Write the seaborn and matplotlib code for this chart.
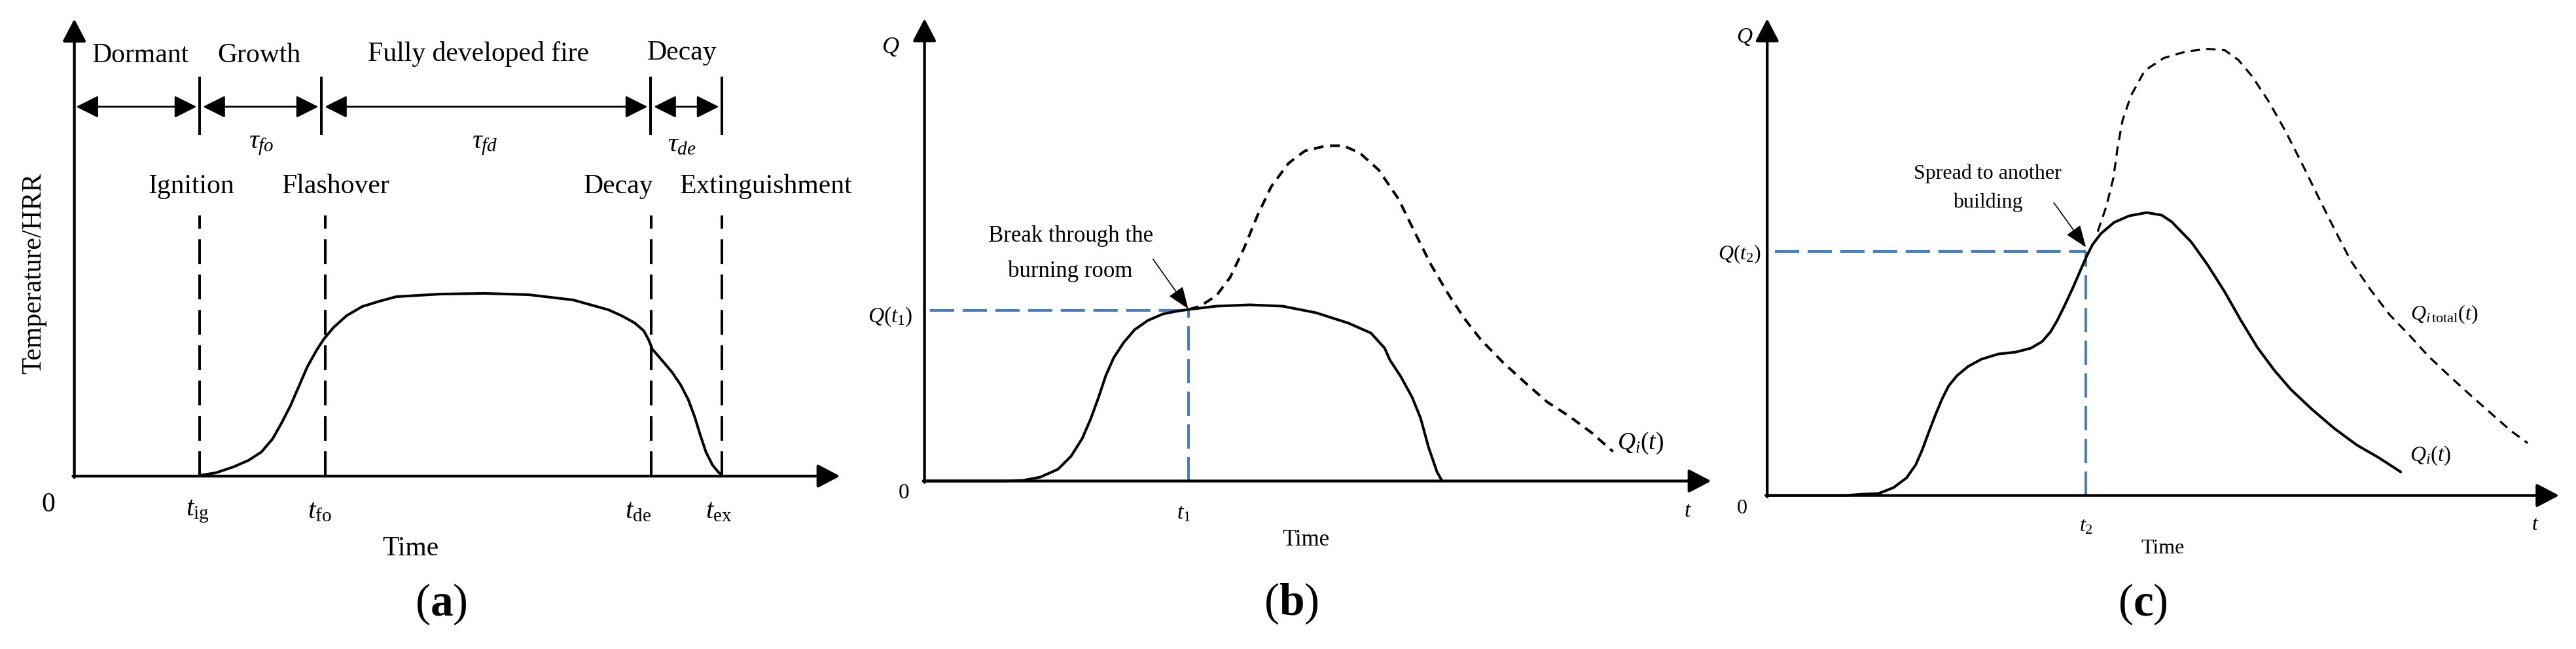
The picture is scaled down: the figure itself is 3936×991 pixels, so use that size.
import numpy as np
import pandas as pd
import matplotlib
matplotlib.use("Agg")
import matplotlib.pyplot as plt
import seaborn as sns

# ---------------- data (schematic values) ----------------
# Panel (a): fire development curve
a_time = [191, 216, 243, 266, 286, 303, 316, 330, 343, 356, 370, 381, 396, 416,
          440, 466, 492, 560, 627, 694, 762, 816, 836, 856, 870, 878, 883, 896,
          913, 926, 938, 948, 956, 965, 975, 985, 989]
a_value = [1, 5, 14, 24, 37, 57, 80, 107, 137, 167, 192, 209, 227, 245,
           259, 267, 274, 278, 279, 277, 269, 254, 245, 234, 222, 207, 194, 179,
           159, 140, 117, 90, 64, 37, 17, 5, 2]
a_phase_bounds = [191, 377, 880, 989]
a_event_times = [191, 383, 881, 989]
a_phase_names = ["Dormant", "Growth", "Fully developed fire", "Decay"]
a_tau_labels = [r"$\tau_{fo}$", r"$\tau_{fd}$", r"$\tau_{de}$"]
a_event_names = ["Ignition", "Flashover", "Decay", "Extinguishment"]
a_tick_labels = [r"$t_{\rm ig}$", r"$t_{\rm fo}$", r"$t_{\rm de}$", r"$t_{\rm ex}$"]

# Panel (b): burning room and total
b_time = [0, 120, 151, 177, 204, 224, 241, 254, 266, 277, 289, 304, 321, 341,
          364, 384, 404, 446, 497, 547, 598, 648, 682, 703, 711, 728, 745, 758,
          770, 783, 791]
b_room = [0, 0, 1, 6, 18, 38, 65, 95, 128, 161, 188, 211, 231, 245,
          255, 259, 262, 267, 269, 267, 257, 241, 226, 203, 185, 159, 128, 96,
          52, 14, 0]
b_total_time = [404, 421, 446, 467, 488, 509, 530, 556, 581, 614, 640, 665, 694,
                724, 749, 774, 800, 825, 850, 884, 918, 951, 985, 1019, 1052]
b_total = [262, 267, 283, 311, 355, 406, 450, 485, 504, 512, 512, 501, 475,
           431, 380, 330, 286, 248, 216, 181, 150, 121, 99, 74, 45]
t1, Q_t1 = 403, 261

# Panel (c): spread to another building
c_time = [0, 120, 145, 170, 193, 213, 227, 237, 247, 257, 267, 277, 290, 307,
          327, 353, 380, 403, 420, 433, 443, 453, 467, 480, 487, 497, 510, 530,
          553, 580, 603, 618, 648, 673, 699, 724, 749, 775, 800, 833, 867, 901,
          934, 968]
c_qi = [0, 0, 2, 3, 12, 27, 47, 70, 97, 123, 147, 167, 183, 197,
        208, 216, 219, 225, 235, 250, 267, 287, 317, 347, 363, 383, 400, 417,
        427, 432, 428, 418, 387, 352, 311, 267, 226, 191, 162, 131, 102, 77,
        58, 36]
c_total_time = [505, 518, 529, 535, 543, 556, 577, 606, 640, 673, 699, 720, 741,
                766, 791, 817, 842, 867, 892, 922, 951, 981, 1010, 1044, 1078,
                1111, 1136, 1162]
c_total = [403, 441, 485, 529, 573, 611, 649, 668, 678, 682, 680, 665, 640,
           602, 558, 507, 456, 406, 358, 314, 276, 245, 213, 181, 150,
           121, 99, 80]
t2, Q_t2 = 487, 373

# ---------------- style ----------------
sns.set_theme(style="white")
plt.rcParams["font.family"] = ["Liberation Serif", "DejaVu Serif"]
plt.rcParams["mathtext.fontset"] = "custom"
plt.rcParams["mathtext.rm"] = "Liberation Serif"
plt.rcParams["mathtext.it"] = "Liberation Serif:italic"
plt.rcParams["mathtext.bf"] = "Liberation Serif:bold"

W, H = 3936, 991
fig = plt.figure(figsize=(W / 100, H / 100), dpi=100)
fig.patch.set_facecolor("white")
BLUE = "#4a7ebb"


def panel(ox, oy):
    ax = fig.add_axes([0, 0, 1, 1])
    ax.set_xlim(-ox, W - ox)
    ax.set_ylim(-(H - oy), oy)
    ax.set_axis_off()
    ax.patch.set_visible(False)
    return ax


def axis_arrows(ax, xmax, ymax):
    st = "-|>,head_length=21,head_width=11"
    ax.annotate("", xy=(xmax, 0), xytext=(-2, 0),
                arrowprops=dict(arrowstyle=st, mutation_scale=1, lw=3.1,
                                color="black", shrinkA=0, shrinkB=0))
    ax.annotate("", xy=(0, ymax), xytext=(0, -2),
                arrowprops=dict(arrowstyle=st, mutation_scale=1, lw=3.1,
                                color="black", shrinkA=0, shrinkB=0))


def txt(ax, x, y, s, fs, **kw):
    ax.text(x, y, s, fontsize=fs, ha="center", va="center", color="black", **kw)


def curve(ax, x, y, lw, dashes=None):
    sns.lineplot(x=x, y=y, ax=ax, color="black", lw=lw, sort=False,
                 estimator=None, legend=False, zorder=3)
    line = ax.lines[-1]
    line.set_solid_joinstyle("round")
    if dashes is not None:
        line.set_dashes(dashes)
        line.set_dash_capstyle("butt")


def pointer(ax, tip, tail):
    ax.annotate("", xy=tip, xytext=tail,
                arrowprops=dict(arrowstyle="-|>,head_length=21,head_width=8",
                                mutation_scale=1, lw=1.2, color="black",
                                shrinkA=0, shrinkB=0))

# ---------------- panel (a) ----------------
axa = panel(113.6, 727)
axis_arrows(axa, 1170, 698)
curve(axa, a_time, a_value, 2.9)
for t in a_event_times:
    axa.plot([t, t], [0, 398], color="black", lw=2.9, dashes=(9.4, 4.0),
             dash_capstyle="butt", zorder=2)
for b in a_phase_bounds:
    axa.plot([b, b], [521, 610], color="black", lw=2.9, solid_capstyle="butt")
starts = [0] + a_phase_bounds[:-1]
for i, (s, e) in enumerate(zip(starts, a_phase_bounds)):
    axa.annotate("", xy=(e, 564), xytext=(s, 564),
                 arrowprops=dict(arrowstyle="<|-|>,head_length=21,head_width=10.5",
                                 mutation_scale=1, lw=2.0, color="black",
                                 shrinkA=2 if i == 0 else 4, shrinkB=3))
for x, y, s in zip([101, 282, 617, 928], [642, 642, 645, 646], a_phase_names):
    txt(axa, x, y, s, 30)
for x, s in zip([286, 627, 928.5], a_tau_labels):
    txt(axa, x, 506, s, 30)
for x, s in zip([178.5, 400, 831, 1056.5], a_event_names):
    txt(axa, x, 442.5, s, 30)
for x, s in zip([188, 375, 861, 985], a_tick_labels):
    txt(axa, x, -54, s, 30)
txt(axa, -39.6, -44, "0", 30)
txt(axa, 513.5, -110.6, "Time", 30)
txt(axa, -61.5, 309.7, "Temperature/HRR", 30, rotation=90)
txt(axa, 560, -196, r"($\mathbf{a}$)", 50)

# ---------------- panel (b) ----------------
axb = panel(1412.6, 734.5)
axb.plot([8, t1], [Q_t1, Q_t1], color=BLUE, lw=2.9, dashes=(9.2, 3.2),
         dash_capstyle="butt", zorder=1)
axb.plot([t1, t1], [0, Q_t1], color=BLUE, lw=2.9, dashes=(9.2, 3.2),
         dash_capstyle="butt", zorder=1)
axis_arrows(axb, 1202, 706)
curve(axb, b_time, b_room, 2.9)
curve(axb, b_total_time, b_total, 2.9, dashes=(3.7, 2.5))
pointer(axb, (t1, Q_t1 + 2), (349, 339))
txt(axb, -52, 662, r"$Q$", 26)
txt(axb, -32, -18, "0", 24)
txt(axb, -52, 251, r"$Q(t_1)$", 24)
txt(axb, 396, -49, r"$t_1$", 24)
txt(axb, 1166, -46, r"$t$", 24)
txt(axb, 583, -90, "Time", 25)
txt(axb, 223, 374, "Break through the", 25)
txt(axb, 223, 320, "burning room", 25)
txt(axb, 1094, 58, r"$Q_i(t)$", 27)
txt(axb, 560, -188, r"($\mathbf{b}$)", 50)

# ---------------- panel (c) ----------------
axc = panel(2700.2, 756.6)
axc.plot([12, t2], [Q_t2, Q_t2], color=BLUE, lw=2.9, dashes=(9.2, 3.2),
         dash_capstyle="butt", zorder=1)
axc.plot([t2, t2], [0, Q_t2], color=BLUE, lw=2.9, dashes=(9.2, 3.2),
         dash_capstyle="butt", zorder=1)
axis_arrows(axc, 1210, 728)
curve(axc, c_time, c_qi, 2.9)
curve(axc, c_total_time, c_total, 2.3, dashes=(4.5, 3.0))
pointer(axc, (t2, Q_t2 + 6), (438, 447))
txt(axc, -34, 700, r"$Q$", 24)
txt(axc, -38, -20, "0", 23)
txt(axc, -42, 368, r"$Q(t_2)$", 23)
txt(axc, 487, -47, r"$t_2$", 23)
txt(axc, 1174, -45, r"$t$", 23)
txt(axc, 604, -81, "Time", 23)
txt(axc, 337, 491, "Spread to another", 23)
txt(axc, 337, 447, "building", 23)
txt(axc, 1034, 276, r"$Q_{i\,\mathrm{total}}(t)$", 23)
txt(axc, 1014, 61, r"$Q_i(t)$", 24)
txt(axc, 574, -166, r"($\mathbf{c}$)", 50)

fig.savefig("out.png", dpi=100, facecolor="white")
